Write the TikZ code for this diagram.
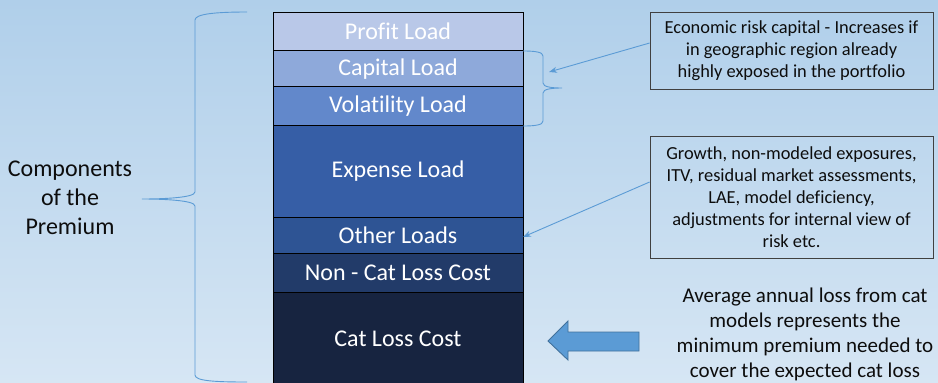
\documentclass[tikz,border=0pt]{standalone}
\usepackage{fontspec}
\setmainfont{Carlito}[Ligatures={NoCommon}]
\usetikzlibrary{arrows.meta}
\definecolor{bgtop}{HTML}{B0CFEA}
\definecolor{bgbot}{HTML}{D6E6F4}
\definecolor{c1}{HTML}{B9C8E8}
\definecolor{c2}{HTML}{8EA9DA}
\definecolor{c3}{HTML}{6288CB}
\definecolor{c4}{HTML}{365EA6}
\definecolor{c5}{HTML}{2E5494}
\definecolor{c6}{HTML}{223B69}
\definecolor{c7}{HTML}{172440}
\definecolor{accent}{HTML}{5B9BD5}
\definecolor{accentdark}{HTML}{41719C}
\definecolor{boxline}{HTML}{404040}
\definecolor{ink}{HTML}{0D0D0D}
\begin{document}
\begin{tikzpicture}[x=1pt,y=-1pt,
  layer/.style={draw=black, line width=0.8pt, minimum width=250pt, inner sep=0pt, outer sep=0pt,
    text=white, font=\fontsize{24}{29}\selectfont, anchor=north},
  note/.style={draw=boxline, line width=0.8pt, minimum width=283pt, inner sep=0pt, align=center,
    font=\fontsize{18.4}{22}\selectfont, text=ink},
  brace/.style={draw=accent, line width=0.9pt},
  pointer/.style={draw=accent, line width=0.9pt, -{Stealth[length=8pt,width=6pt]}},
  plain/.style={align=center, text=ink, inner sep=0pt},
]
\shade[top color=bgtop, bottom color=bgbot] (0,0) rectangle (938,383);
\useasboundingbox (0,0) rectangle (938,383);

% stack
\node[layer, fill=c1, minimum height=38.7pt] (profit) at (398,12) {Profit Load};
\node[layer, fill=c2, minimum height=36pt] (capital) at (398,50.7) {Capital Load};
\node[layer, fill=c3, minimum height=38.6pt] (volatility) at (398,86.7) {Volatility Load};
\node[layer, fill=c4, minimum height=92pt] (expense) at (398,125.3) {Expense Load};
\node[layer, fill=c5, minimum height=36.2pt] (other) at (398,217.3) {Other Loads};
\node[layer, fill=c6, minimum height=38.5pt] (noncat) at (398,253.5) {Non - Cat Loss Cost};
\node[layer, fill=c7, minimum height=93pt] (cat) at (398,292) {Cat Loss Cost};

% big brace
\draw[brace] (247,12) .. controls (215,12) and (195,14) .. (195,20) -- (195,192)
  .. controls (195,198) and (160,199) .. (142,199)
  .. controls (160,199) and (195,200) .. (195,206) -- (195,375)
  .. controls (195,381) and (215,382) .. (247,382);
\node[plain, font=\fontsize{24}{29}\selectfont] (comp) at (70,198) {Components\\of the\\Premium};

% small brace
\draw[brace] (523,51) .. controls (535,51) and (543,52) .. (543,56) -- (543,83)
  .. controls (543,87) and (552,88) .. (562,88)
  .. controls (552,88) and (543,89) .. (543,93) -- (543,121)
  .. controls (543,125) and (535,126) .. (523,126);

% notes
\node[note, minimum height=77pt] (risk) at (791.5,50.5)
  {Economic risk capital - Increases if\\in geographic region already\\highly exposed in the portfolio};
\node[note, minimum height=122pt] (misc) at (791.5,197)
  {Growth, non-modeled exposures,\\ITV, residual market assessments,\\LAE, model deficiency,\\adjustments for internal view of\\risk etc.};
\node[plain, font=\fontsize{21}{25}\selectfont] (aal) at (805,334)
  {Average annual loss from cat\\models represents the\\minimum premium needed to\\cover the expected cat loss};

% pointers
\coordinate (capbrace) at (549,72);
\draw[pointer] ([yshift=7.5pt]risk.west) -- (capbrace);
\draw[pointer] ([yshift=15pt]misc.west) -- ([yshift=-1.6pt]other.east);

% block arrow
\draw[fill=accent, draw=accentdark, line width=0.9pt, line join=miter]
  (639,332) -- (568,332) -- (568,321) -- (548,341) -- (568,360) -- (568,351) -- (639,351) -- cycle;
\end{tikzpicture}
\end{document}
